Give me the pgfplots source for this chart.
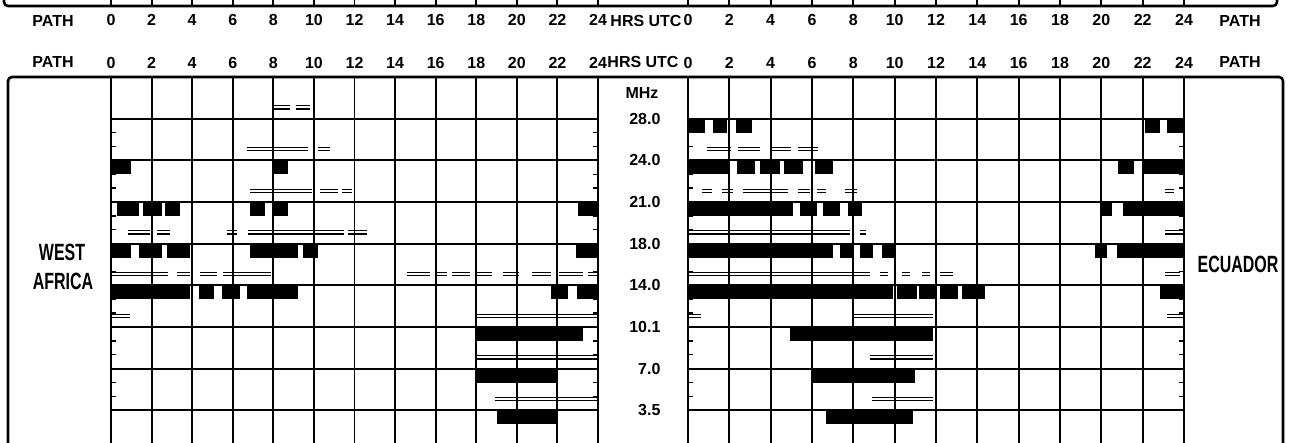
\documentclass[border=0pt]{standalone}
\usepackage{pgfplots}
\pgfplotsset{compat=1.18}
\usepackage{pgfplotstable}
\usepackage{graphicx}
\usepackage{fontspec}
\setmainfont{Liberation Sans}
\newcommand\hdr{\fontsize{16}{18}\selectfont\bfseries}
\newcommand\cond{\fontsize{23.5}{26}\selectfont\bfseries}

% bars: start hour, end hour, row (1 = 3.5 MHz ... 8 = 28.0 MHz)
\pgfplotstableread{
s e r
0.0 1.0 7
8.0 8.7 7
0.3 1.4 6
1.6 2.5 6
2.65 3.4 6
6.85 7.6 6
8.0 8.7 6
23.0 24 6
0.0 1.0 5
1.4 2.5 5
2.75 3.9 5
6.85 9.2 5
9.45 10.2 5
22.9 24 5
0.0 3.9 4
4.35 5.1 4
5.45 6.35 4
6.7 9.2 4
21.7 22.5 4
22.95 24 4
18.0 23.25 3
18.0 22.0 2
19.0 22.0 1
}\waBlack

\pgfplotstableread{
s e r
8.0 8.8 8
9.1 9.8 8
6.7 9.7 7
10.2 10.8 7
6.85 9.9 6
10.3 11.2 6
11.4 11.9 6
0.85 1.9 5
2.25 2.9 5
5.7 6.2 5
6.75 11.5 5
11.7 12.6 5
0.0 2.8 4
3.25 3.9 4
4.4 5.2 4
5.5 7.9 4
14.6 15.7 4
16.0 16.55 4
16.8 17.7 4
18.0 18.8 4
19.3 20.1 4
20.75 21.7 4
22.1 23.25 4
23.5 24 4
0.0 0.95 3
18.0 24 3
17.95 24 2
18.9 24 1
}\waDouble

\pgfplotstableread{
s e r
0 0.8 8
1.2 1.9 8
2.3 3.1 8
22.1 22.85 8
23.2 24 8
0 1.95 7
2.35 3.25 7
3.5 4.45 7
4.65 5.55 7
6.15 7.0 7
20.8 21.6 7
22.0 24 7
0 5.1 6
5.4 6.25 6
6.55 7.35 6
7.75 8.4 6
20.0 20.5 6
21.05 24 6
0 7.0 5
7.35 8.0 5
8.3 8.95 5
9.4 10.0 5
19.7 20.25 5
20.75 24 5
0 9.9 4
10.1 11.1 4
11.2 11.95 4
12.2 13.05 4
13.25 14.35 4
22.85 24 4
4.95 11.85 3
5.95 11.0 2
6.7 10.9 1
}\ecBlack

\pgfplotstableread{
s e r
0.9 2.1 7
2.4 3.5 7
4.05 5.0 7
5.3 6.3 7
0.7 1.15 6
1.65 2.2 6
2.65 4.85 6
5.3 5.9 6
6.25 6.7 6
7.6 8.2 6
23.1 23.5 6
0 7.85 5
8.3 8.6 5
23.1 24 5
0 8.8 4
9.3 9.7 4
10.35 10.75 4
11.3 11.7 4
12.2 12.8 4
23.1 23.8 4
0 0.65 3
7.95 11.85 3
23.2 24 3
8.8 11.85 2
8.9 11.85 1
}\ecDouble

\pgfplotsset{
  chart/.style={
    scale only axis, anchor=south west,
    height=375pt,
    xmin=0, xmax=24, ymin=0, ymax=9,
    xtick={0,2,...,24},
    xticklabels={0,2,4,6,8,10,12,14,16,18,20,22,24},
    ytick={1,...,8}, yticklabels={},
    minor y tick num=2,
    grid=major,
    major grid style={black, line width=1.9pt},
    axis line style={black, line width=2.2pt},
    major tick length=0pt, minor tick length=5pt,
    minor tick style={black, line width=1.4pt},
    tick align=inside,
    xticklabel style={font=\hdr},
  },
  seg/.style={draw=none, mark=none,
    error bars/.cd, x dir=plus, x explicit, error mark=none,
    error bar style={draw=black, line width=#1}},
}

\begin{document}
\begin{tikzpicture}[x=1pt,y=1pt]
\useasboundingbox (0,0) rectangle (1289,442);
\clip (0,0) rectangle (1289,442);

% bottom of the chart above
\begin{axis}[chart, width=487pt, at={(111pt,436pt)}, xticklabel style={yshift=-5pt}]
\end{axis}
\begin{axis}[chart, width=496pt, at={(688pt,436pt)}, xticklabel style={yshift=-5pt}]
\end{axis}

% West Africa
\begin{axis}[chart, width=487pt, at={(111pt,-10pt)},
  xticklabel pos=upper, xticklabel style={yshift=5pt},
  yticklabel pos=right,
  yticklabels={3.5,7.0,10.1,14.0,18.0,21.0,24.0,28.0},
  yticklabel style={font=\hdr, anchor=east, xshift=66pt},
  ytick pos=both]
\addplot[seg=14pt] table[x=s, y expr=\thisrow{r}-0.168, x error plus expr=\thisrow{e}-\thisrow{s}] {\waBlack};
\addplot[seg=1.2pt] table[x=s, y expr=\thisrow{r}+0.232, x error plus expr=\thisrow{e}-\thisrow{s}] {\waDouble};
\addplot[seg=1.2pt] table[x=s, y expr=\thisrow{r}+0.308, x error plus expr=\thisrow{e}-\thisrow{s}] {\waDouble};
\end{axis}

% Ecuador
\begin{axis}[chart, width=496pt, at={(688pt,-10pt)},
  xticklabel pos=upper, xticklabel style={yshift=5pt},
  ytick pos=both]
\addplot[seg=14pt] table[x=s, y expr=\thisrow{r}-0.168, x error plus expr=\thisrow{e}-\thisrow{s}] {\ecBlack};
\addplot[seg=1.2pt] table[x=s, y expr=\thisrow{r}+0.232, x error plus expr=\thisrow{e}-\thisrow{s}] {\ecDouble};
\addplot[seg=1.2pt] table[x=s, y expr=\thisrow{r}+0.308, x error plus expr=\thisrow{e}-\thisrow{s}] {\ecDouble};
\end{axis}

\draw[line width=2.6pt, rounded corners=4pt] (8,-30) -- (8,365) -- (1283,365) -- (1283,-30);
\draw[line width=2.6pt, rounded corners=4pt] (4,470) -- (4,436) -- (1277,436) -- (1277,470);

\node[font=\hdr] at (53,421) {PATH};
\node[font=\hdr] at (53,380) {PATH};
\node[font=\hdr] at (1240,421) {PATH};
\node[font=\hdr] at (1240,380) {PATH};
\node[font=\hdr] at (646,421) {HRS UTC};
\node[font=\hdr] at (643,380) {HRS UTC};
\node[font=\hdr, anchor=east] at (662,349) {MHz};
\node at (62,190) {\scalebox{0.68}[1]{\cond WEST}};
\node at (63,161) {\scalebox{0.68}[1]{\cond AFRICA}};
\node at (1238,178) {\scalebox{0.68}[1]{\cond ECUADOR}};
\end{tikzpicture}
\end{document}
